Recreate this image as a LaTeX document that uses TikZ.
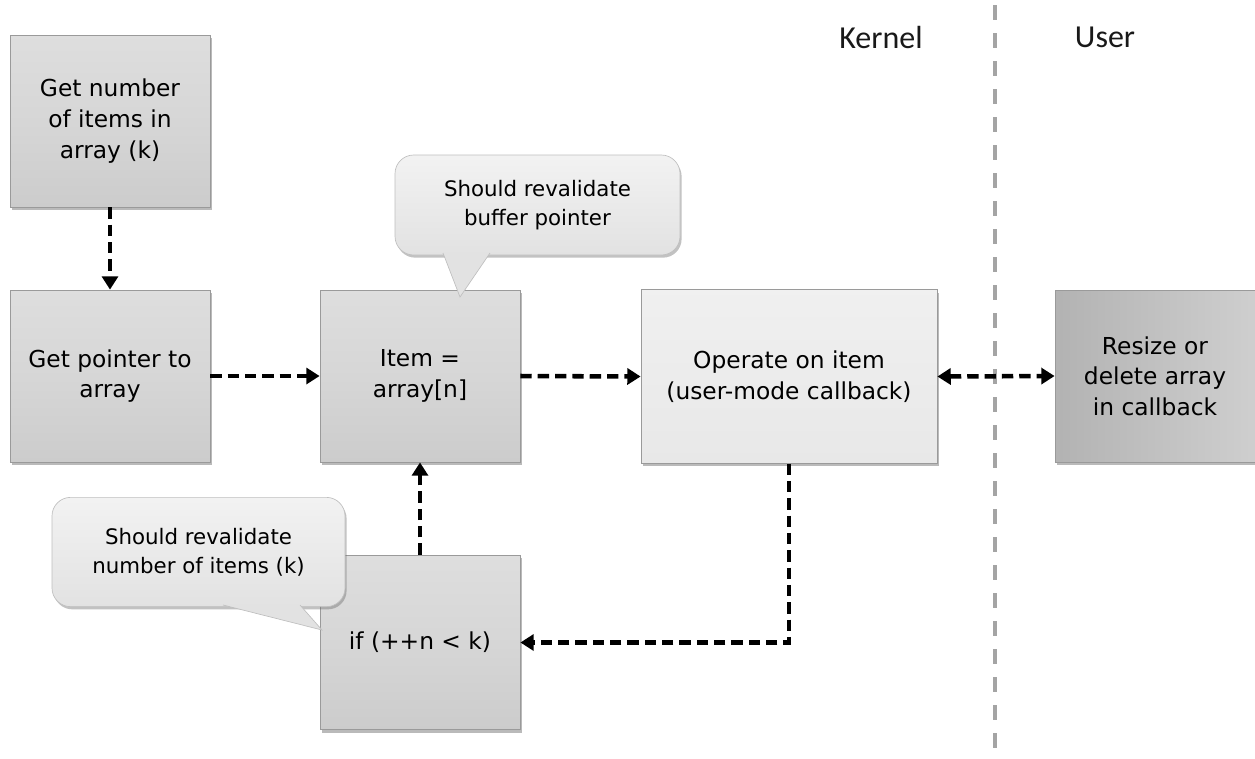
\documentclass[tikz,border=0pt]{standalone}
\usepackage{fontspec}
\setmainfont{DejaVu Sans}
\newfontfamily\lblfont{Carlito}
\usetikzlibrary{arrows.meta,shadows}
\definecolor{boxedge}{HTML}{9A9A9A}
\definecolor{calloutlow}{HTML}{E2E2E2}
\definecolor{divgray}{HTML}{A4A4A4}
\begin{document}
\begin{tikzpicture}[x=0.75pt,y=-0.75pt,
  stepbox/.style={draw=boxedge,line width=0.6pt,minimum width=150pt,minimum height=129pt,
    align=center,font=\fontsize{17.5}{23}\selectfont,inner sep=2pt,
    drop shadow={shadow xshift=1.5pt,shadow yshift=-2.2pt,opacity=0.45,fill=black!60}},
  midbox/.style={stepbox,top color=black!13,bottom color=black!20,middle color=black!16},
  lightbox/.style={stepbox,top color=black!6,bottom color=black!9},
  darkbox/.style={stepbox,left color=black!30,right color=black!19},
  callbox/.style={draw=black!25,line width=0.5pt,rounded corners=14pt,top color=black!5,bottom color=calloutlow,
    align=center,font=\fontsize{16}{22}\selectfont,
    drop shadow={shadow xshift=1.2pt,shadow yshift=-2pt,opacity=0.4,fill=black!60}},
  flow/.style={line width=3.4pt,dash pattern=on 8.5pt off 4.5pt,-{Triangle[length=10pt,width=12pt]}},
  sidelbl/.style={font=\lblfont\fontsize{24}{27}\selectfont,text=black!90}
]
\useasboundingbox (0,0) rectangle (1255,758);
% divider
\coordinate (divtop) at (995,5);
\coordinate (divbot) at (995,758);
\draw[divgray,line width=2.6pt,dash pattern=on 11pt off 10pt] (divtop) -- (divbot);
% side labels
\node[sidelbl] (kern) at (881,37) {Kernel};
\node[sidelbl] (user) at (1105,37) {User};
% boxes
\node[midbox] (A) at (110,121) {Get number\\of items in\\array (k)};
\node[midbox] (B) at (110,376) {Get pointer to\\array};
\node[midbox] (C) at (420,376) {Item =\\array[n]};
\node[lightbox,minimum width=222pt,minimum height=130pt] (D) at (789,376.5) {Operate on item\\(user-mode callback)};
\node[darkbox] (E) at (1155,376) {Resize or\\delete array\\in callback};
\node[midbox,minimum height=131pt] (F) at (420,642.5) {if (++n < k)};
% callout 1
\node[callbox,minimum width=213.75pt,minimum height=75pt] (c1) at (537.5,205) {Should revalidate\\buffer pointer};
\coordinate (t1a) at (443,253);
\coordinate (t1b) at (490,253);
\coordinate (t1tip) at (460,297);
\fill[calloutlow] (t1a) -- (t1tip) -- (t1b) -- cycle;
\draw[black!25,line width=0.5pt] (t1a) -- (t1tip) -- (t1b);
% callout 2
\node[callbox,minimum width=219.75pt,minimum height=82pt] (c2) at (198.5,552) {Should revalidate\\number of items (k)};
\coordinate (t2a) at (223,605);
\coordinate (t2b) at (300,605);
\coordinate (t2tip) at (322,630);
\fill[calloutlow] (t2a) -- (t2tip) -- (t2b) -- cycle;
\draw[black!25,line width=0.5pt] (t2a) -- (t2tip) -- (t2b);
% connectors
\draw[flow] (A.south) -- (B.north);
\draw[flow] (B.east) -- (C.west);
\draw[flow] (C.east) -- (D.west);
\draw[flow,{Triangle[length=10pt,width=12pt]}-{Triangle[length=10pt,width=12pt]}] (D.east) -- (E.west);
\draw[flow] (D.south) |- (F.east);
\draw[flow] (F.north) -- (C.south);
\end{tikzpicture}
\end{document}
